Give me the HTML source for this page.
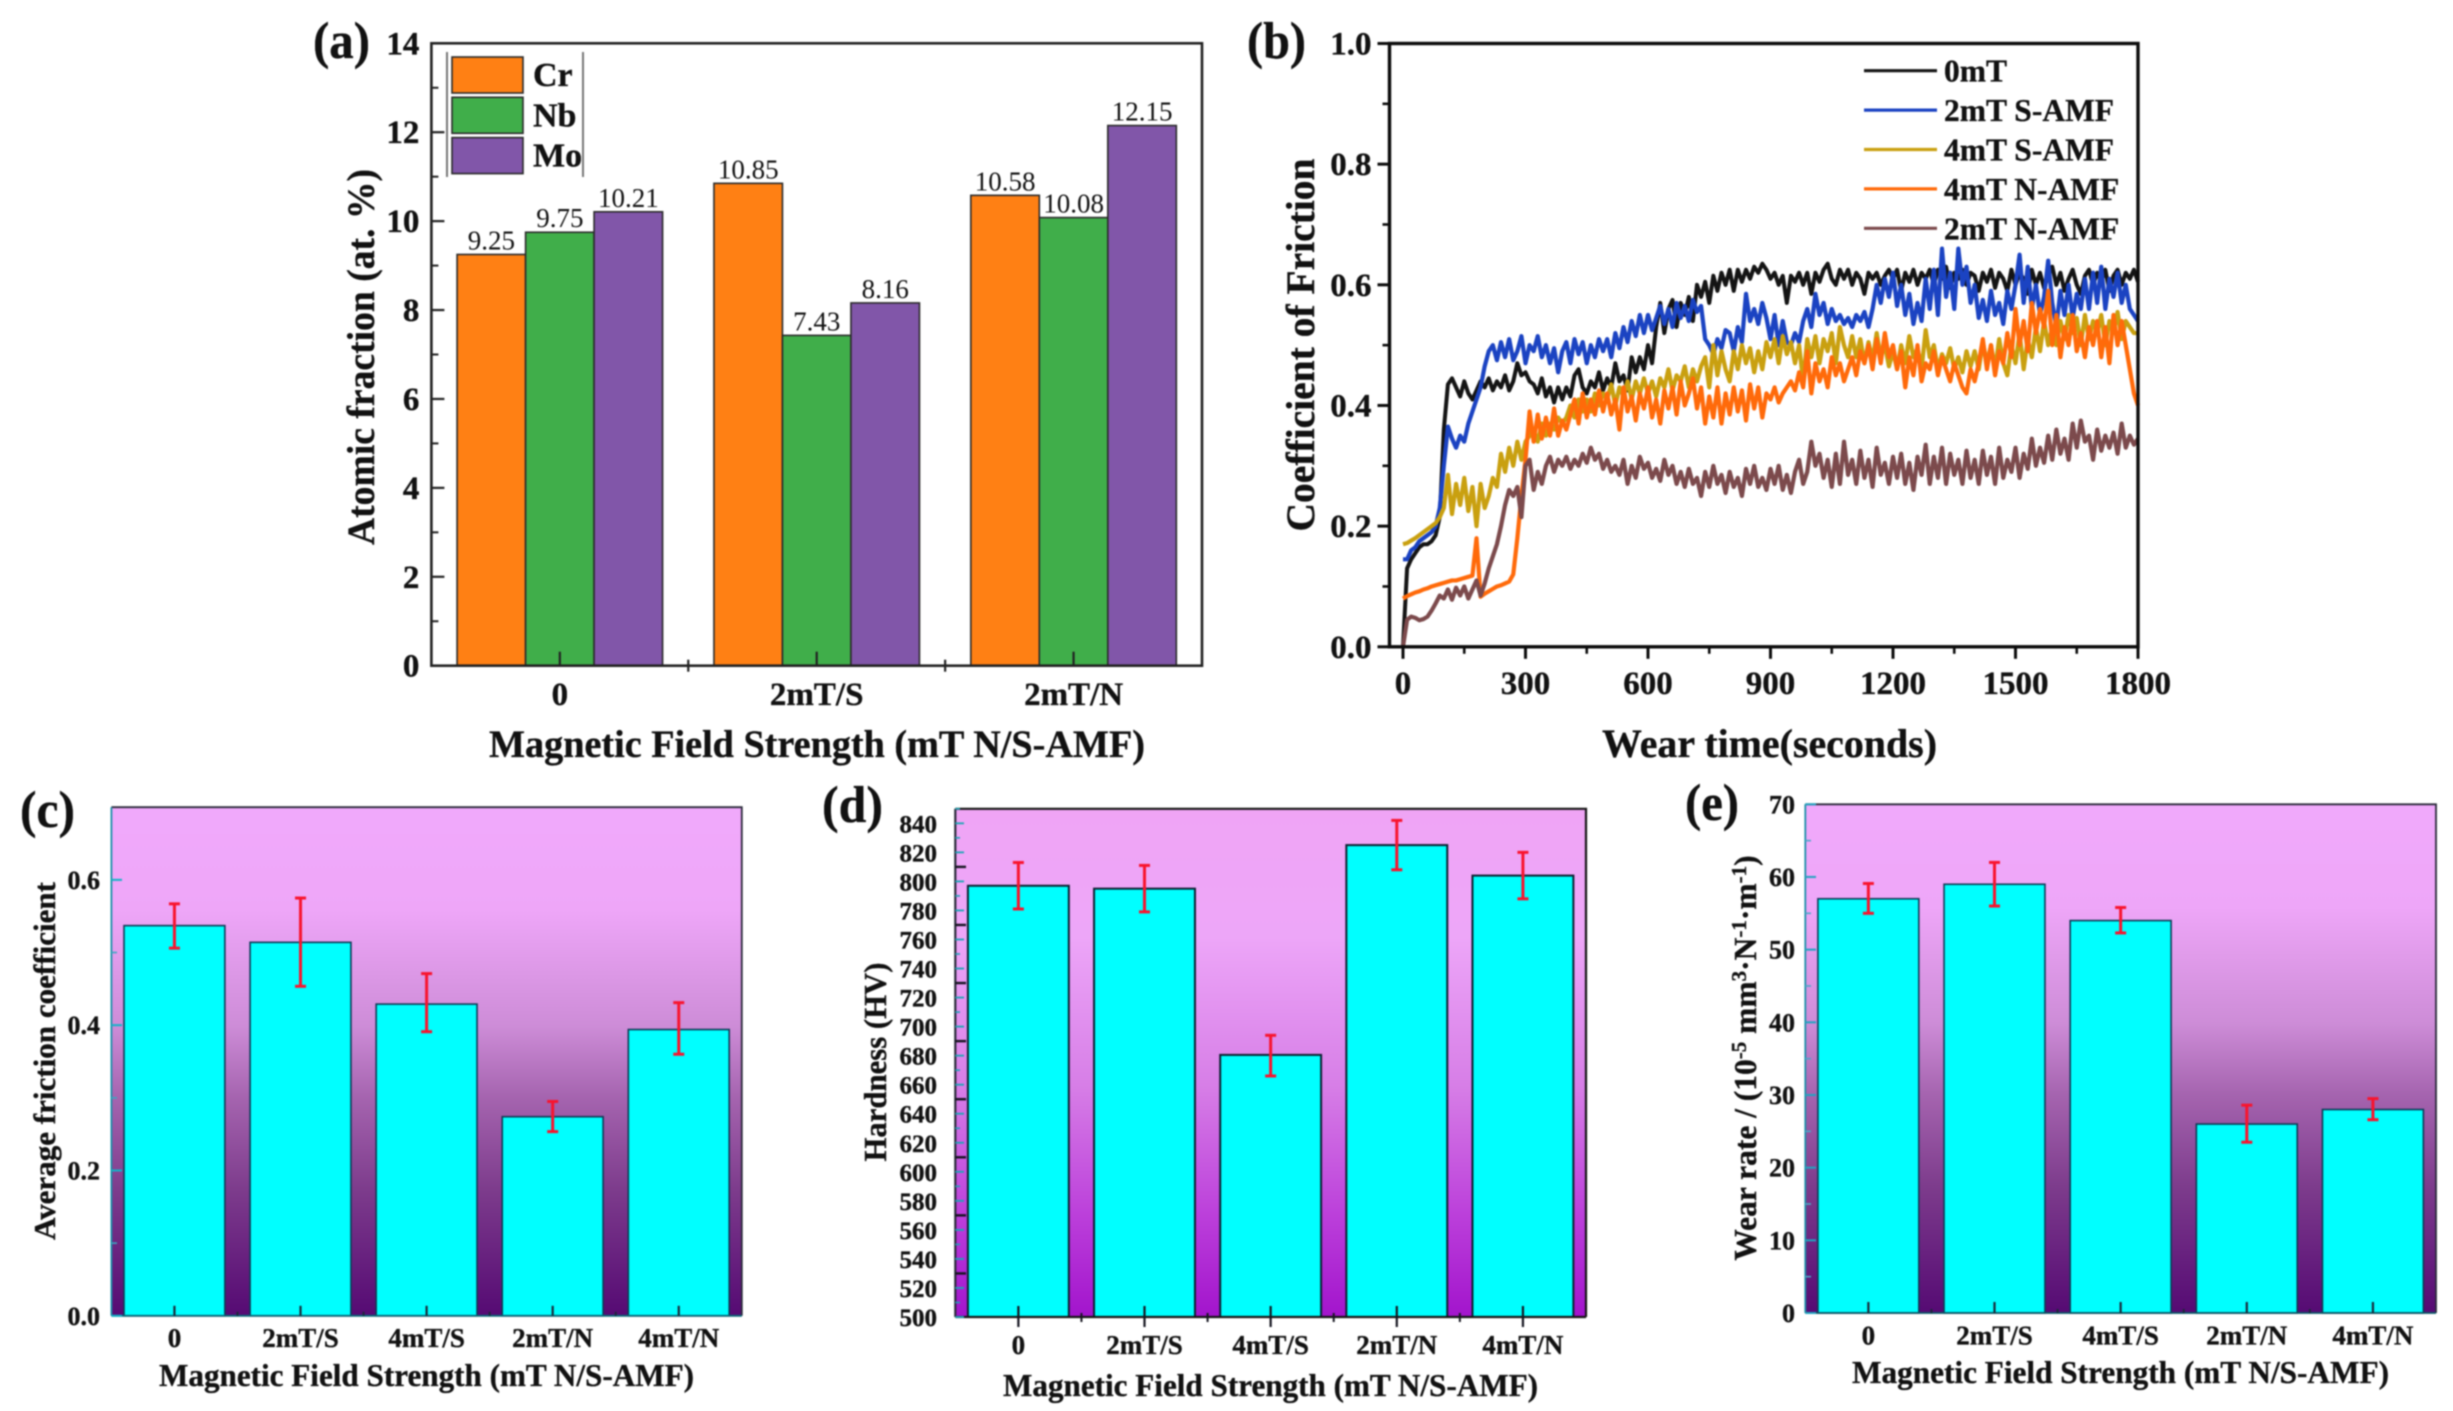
<!DOCTYPE html>
<html lang="en">
<head>
<meta charset="utf-8">
<title>Magnetic field effects on composition, friction, hardness and wear</title>
<style>
html,body{margin:0;padding:0;background:#fff;width:2453px;height:1411px;overflow:hidden}
svg{display:block;filter:blur(0.7px)}
text{font-family:"Liberation Serif","Noto Serif CJK SC",serif;fill:#111}
.b{font-weight:bold;stroke:#111;stroke-width:0.35px}
</style>
</head>
<body>
<svg id="fig" xmlns="http://www.w3.org/2000/svg" width="2453" height="1411" viewBox="0 0 2453 1411">
<defs>
<linearGradient id="gradDark" x1="0" y1="0" x2="0" y2="1">
<stop offset="0" stop-color="#f0a9fb"/><stop offset="0.2" stop-color="#eea6f8"/><stop offset="0.43" stop-color="#cd8cd7"/><stop offset="0.57" stop-color="#a564af"/><stop offset="0.75" stop-color="#7d3c8c"/><stop offset="1" stop-color="#550a73"/>
</linearGradient>
<linearGradient id="gradBright" x1="0" y1="0" x2="0" y2="1">
<stop offset="0" stop-color="#efa4f5"/><stop offset="0.25" stop-color="#eda6f8"/><stop offset="0.55" stop-color="#d67de6"/><stop offset="0.8" stop-color="#bb3fda"/><stop offset="1" stop-color="#a214cc"/>
</linearGradient>
</defs>
<rect x="0" y="0" width="2453" height="1411" fill="#fff"/>

<g id="panelA"></g>
<g id="panelB"></g>
<g id="panelC"></g>
<g id="panelD"></g>
<g id="panelE"></g>

<text class="b" x="313" y="58" font-size="52" textLength="57" lengthAdjust="spacingAndGlyphs">(a)</text>
<text class="b" x="1247" y="58" font-size="52" textLength="59" lengthAdjust="spacingAndGlyphs">(b)</text>
<text class="b" x="20" y="827" font-size="52" textLength="55" lengthAdjust="spacingAndGlyphs">(c)</text>
<text class="b" x="822" y="822" font-size="52" textLength="61" lengthAdjust="spacingAndGlyphs">(d)</text>
<text class="b" x="1685" y="820" font-size="52" textLength="54" lengthAdjust="spacingAndGlyphs">(e)</text>

<text class="b" x="489" y="757" font-size="39" textLength="656" lengthAdjust="spacingAndGlyphs">Magnetic Field Strength (mT N/S-AMF)</text>
<text class="b" transform="translate(374,357) rotate(-90)" text-anchor="middle" font-size="39" textLength="376" lengthAdjust="spacingAndGlyphs">Atomic fraction (at. %)</text>

<text class="b" x="1602" y="757" font-size="40" textLength="335" lengthAdjust="spacingAndGlyphs">Wear time(seconds)</text>
<text class="b" transform="translate(1314,345) rotate(-90)" text-anchor="middle" font-size="40" textLength="373" lengthAdjust="spacingAndGlyphs">Coefficient of Friction</text>

<text class="b" x="159" y="1386" font-size="32" textLength="535" lengthAdjust="spacingAndGlyphs">Magnetic Field Strength (mT N/S-AMF)</text>
<text class="b" transform="translate(55,1061) rotate(-90)" text-anchor="middle" font-size="31" textLength="358" lengthAdjust="spacingAndGlyphs">Average friction coefficient</text>

<text class="b" x="1003" y="1396" font-size="32" textLength="535" lengthAdjust="spacingAndGlyphs">Magnetic Field Strength (mT N/S-AMF)</text>
<text class="b" transform="translate(886,1062) rotate(-90)" text-anchor="middle" font-size="32" textLength="199" lengthAdjust="spacingAndGlyphs">Hardness (HV)</text>

<text class="b" x="1852" y="1383" font-size="32" textLength="537" lengthAdjust="spacingAndGlyphs">Magnetic Field Strength (mT N/S-AMF)</text>
<text class="b" transform="translate(1756,1058) rotate(-90)" text-anchor="middle" font-size="31.5">Wear rate / (10<tspan dy="-10" font-size="21">-5</tspan><tspan dy="10"> mm</tspan><tspan dy="-10" font-size="21">3</tspan><tspan dy="10">·N</tspan><tspan dy="-10" font-size="21">-1</tspan><tspan dy="10">·m</tspan><tspan dy="-10" font-size="21">-1</tspan><tspan dy="10">)</tspan></text>
</svg>

<script>
// ---- Panel (a) data ----
const aCategories = ["0", "2mT/S", "2mT/N"];
const aCr = [9.25, 10.85, 10.58];
const aNb = [9.75, 7.43, 10.08];
const aMo = [10.21, 8.16, 12.15];
const aYTicks = [0, 2, 4, 6, 8, 10, 12, 14];
const aSeriesNames = ["Cr", "Nb", "Mo"];

// ---- Panel (b) data: coefficient of friction sampled every 10 s ----
const bXTicks = [0, 300, 600, 900, 1200, 1500, 1800];
const bYTicks = ["0.0", "0.2", "0.4", "0.6", "0.8", "1.0"];
const bSeriesNames = ["0mT", "2mT S-AMF", "4mT S-AMF", "4mT N-AMF", "2mT N-AMF"];
const bSampleStep = 10;
const b0mT = [
0,.13,.145,.155,.165,.17,.17,.175,.185,.215,
.36,.435,.445,.43,.415,.44,.42,.41,.425,.44,
.43,.445,.425,.44,.43,.45,.425,.44,.47,.45,
.455,.44,.435,.42,.445,.415,.43,.405,.43,.41,
.43,.415,.45,.46,.43,.42,.44,.43,.455,.425,
.445,.43,.47,.44,.45,.425,.48,.455,.48,.46,
.5,.47,.53,.57,.52,.56,.575,.53,.57,.55,
.58,.54,.6,.58,.605,.57,.615,.59,.62,.6,
.625,.59,.625,.605,.625,.61,.63,.62,.635,.625,
.61,.62,.6,.615,.57,.615,.605,.62,.6,.62,
.585,.62,.605,.625,.635,.61,.6,.625,.61,.625,
.6,.62,.61,.585,.62,.61,.62,.6,.615,.625,
.61,.625,.59,.62,.605,.625,.6,.62,.61,.625,
.6,.625,.61,.63,.595,.62,.61,.625,.6,.62,
.615,.59,.62,.605,.625,.595,.62,.61,.59,.625,
.6,.62,.61,.585,.625,.6,.62,.595,.615,.63,
.6,.62,.59,.61,.625,.6,.585,.615,.625,.6,
.62,.605,.625,.59,.615,.625,.6,.62,.61,.625,
.605];
const b2mTS = [
.145,.145,.16,.165,.175,.18,.185,.19,.2,.23,
.3,.365,.345,.33,.35,.34,.37,.39,.41,.43,
.465,.49,.5,.475,.505,.48,.51,.475,.49,.515,
.47,.5,.49,.515,.48,.5,.47,.495,.455,.49,
.505,.47,.51,.485,.505,.47,.5,.48,.51,.49,
.51,.48,.52,.495,.53,.505,.54,.515,.55,.52,
.55,.525,.545,.565,.535,.56,.53,.57,.545,.565,
.54,.575,.555,.565,.51,.5,.485,.51,.495,.525,
.52,.49,.53,.505,.585,.54,.56,.535,.57,.545,
.51,.55,.5,.54,.505,.5,.52,.505,.54,.56,
.53,.585,.55,.57,.535,.56,.54,.55,.535,.545,
.53,.55,.54,.555,.53,.56,.6,.57,.61,.58,
.62,.565,.6,.55,.585,.535,.57,.54,.61,.56,
.625,.55,.66,.58,.62,.56,.66,.6,.63,.57,
.6,.545,.575,.54,.59,.55,.57,.535,.59,.56,
.6,.65,.57,.63,.56,.6,.55,.58,.64,.57,
.53,.59,.55,.6,.545,.585,.56,.61,.56,.62,
.57,.63,.56,.61,.58,.62,.57,.6,.56,.55,
.54];
const b4mTS = [
.17,.172,.176,.18,.185,.19,.195,.2,.205,.215,
.23,.285,.22,.27,.235,.28,.225,.265,.2,.27,
.23,.25,.28,.265,.32,.29,.33,.3,.34,.31,
.34,.35,.36,.34,.37,.35,.37,.36,.38,.37,
.38,.4,.38,.41,.39,.41,.39,.42,.4,.42,
.41,.435,.4,.43,.415,.44,.41,.44,.42,.445,
.42,.44,.415,.445,.43,.46,.425,.45,.44,.465,
.43,.46,.44,.465,.48,.43,.5,.45,.49,.46,
.44,.49,.46,.5,.47,.495,.455,.49,.46,.505,
.48,.51,.47,.515,.485,.505,.47,.5,.44,.51,
.48,.515,.47,.51,.49,.52,.47,.53,.5,.48,
.515,.48,.51,.47,.505,.475,.52,.48,.5,.465,
.49,.46,.5,.47,.515,.48,.495,.46,.525,.48,
.5,.46,.485,.47,.495,.46,.48,.455,.49,.465,
.49,.46,.505,.47,.5,.46,.51,.47,.45,.5,
.47,.52,.46,.51,.48,.53,.49,.54,.5,.53,
.5,.54,.51,.55,.52,.545,.5,.55,.51,.54,
.52,.55,.5,.54,.52,.555,.51,.54,.53,.52,
.52];
const b4mTN = [
.08,.084,.087,.09,.092,.095,.097,.1,.102,.104,
.106,.108,.11,.11,.112,.114,.116,.118,.18,.083,
.088,.092,.096,.1,.102,.105,.108,.12,.18,.25,
.31,.39,.34,.385,.345,.38,.35,.395,.35,.375,
.36,.385,.41,.37,.42,.38,.41,.385,.425,.39,
.42,.385,.41,.36,.43,.39,.415,.375,.42,.395,
.43,.38,.41,.37,.425,.395,.43,.385,.44,.4,
.42,.445,.395,.43,.37,.415,.38,.43,.37,.42,
.385,.43,.39,.425,.375,.435,.395,.43,.38,.42,
.41,.43,.405,.42,.43,.44,.425,.455,.43,.49,
.42,.47,.44,.46,.43,.48,.45,.47,.44,.46,
.48,.45,.49,.47,.5,.46,.51,.47,.52,.48,
.5,.46,.49,.43,.48,.45,.5,.44,.47,.46,
.49,.45,.48,.46,.44,.47,.45,.43,.42,.46,
.44,.47,.51,.46,.5,.45,.49,.47,.52,.48,
.56,.5,.54,.49,.57,.52,.56,.53,.59,.5,
.55,.48,.53,.5,.55,.49,.52,.48,.53,.5,
.54,.48,.53,.47,.55,.5,.54,.5,.46,.42,
.40];
const b2mTN = [
0,.045,.05,.048,.044,.046,.05,.06,.072,.085,
.08,.095,.078,.098,.085,.1,.08,.095,.11,.085,
.105,.13,.15,.17,.2,.235,.26,.25,.265,.215,
.3,.31,.26,.29,.27,.3,.315,.29,.31,.3,
.315,.295,.31,.3,.32,.305,.33,.31,.32,.295,
.31,.29,.3,.285,.31,.27,.3,.28,.315,.295,
.305,.28,.295,.275,.31,.285,.3,.27,.29,.265,
.295,.27,.28,.25,.29,.265,.3,.27,.285,.255,
.29,.265,.28,.25,.295,.27,.3,.265,.28,.26,
.295,.27,.3,.26,.285,.255,.29,.31,.27,.29,
.34,.3,.32,.28,.31,.265,.32,.27,.34,.285,
.31,.27,.325,.28,.31,.265,.33,.285,.305,.27,
.315,.28,.32,.27,.305,.26,.315,.285,.335,.27,
.315,.28,.33,.27,.32,.285,.31,.27,.325,.28,
.31,.27,.325,.285,.315,.27,.33,.28,.31,.29,
.33,.28,.32,.295,.345,.3,.33,.305,.35,.31,
.36,.32,.345,.31,.37,.33,.375,.34,.35,.31,
.36,.325,.35,.33,.355,.32,.37,.33,.35,.335,
.345];

// ---- Panels (c), (d), (e) data ----
const fieldCategories = ["0", "2mT/S", "4mT/S", "2mT/N", "4mT/N"];
const cValues = [0.537, 0.514, 0.429, 0.274, 0.394];
const cErrHigh = [0.567, 0.575, 0.471, 0.295, 0.431];
const cErrLow = [0.506, 0.4535, 0.391, 0.2535, 0.36];
const cYTicks = ["0.0", "0.2", "0.4", "0.6"];

const dValues = [797, 795, 680.5, 825, 804];
const dErrHigh = [813, 811, 694, 842, 820];
const dErrLow = [781, 779, 666, 808, 788];
const dYTicks = [500, 520, 540, 560, 580, 600, 620, 640, 660, 680, 700, 720, 740, 760, 780, 800, 820, 840];

const eValues = [57, 59, 54, 26, 28];
const eErrHigh = [59.1, 62, 55.8, 28.6, 29.5];
const eErrLow = [55, 56, 52.3, 23.5, 26.6];
const eYTicks = [0, 10, 20, 30, 40, 50, 60, 70];

const NS = "http://www.w3.org/2000/svg";
function mk(tag, parent, props) {
  const el = document.createElementNS(NS, tag);
  for (const k in props) el.setAttribute(k, props[k]);
  parent.appendChild(el);
  return el;
}
function linearScale(d0, d1, r0, r1) {
  return function (v) { return r0 + (v - d0) / (d1 - d0) * (r1 - r0); };
}
function bandCenter(left, right, n) {
  return function (i) { return left + (i + 0.5) * (right - left) / n; };
}
function tickLine(parent, x1, y1, x2, y2, color, w) {
  const el = mk("line", parent, { x1: x1, y1: y1, x2: x2, y2: y2, stroke: color, "stroke-width": w });
  
  
  return el;
}
function tickText(parent, x, y, str, size, anchor) {
  const el = mk("text", parent, { x: x, y: y, "font-size": size, "text-anchor": anchor, class: "b" });
  el.textContent = str;
  
  
  return el;
}

/* ========= Panel A: grouped bars ========= */
(function () {
  const g = document.getElementById("panelA");
  const L = 431.4, R = 1202, T = 43.3, B = 665.7;
  const y = linearScale(0, 14, B, T);
  const cx = bandCenter(L, R, aCategories.length);
  const band = (R - L) / aCategories.length;
  const bw = band * 0.8 / 3;
  const groups = [aCr, aNb, aMo];
  const fills = ["#ff8014", "#40ae4a", "#8156a9"];
  groups.forEach(function (vals, s) {
    vals.forEach(function (v, i) {
      const x0 = cx(i) + (s - 1.5) * bw;
      const r = mk("rect", g, { x: x0, y: y(v), width: bw, height: B - y(v), fill: fills[s], stroke: "#2a2a2a", "stroke-width": 1.6 });
      
      
      const t = mk("text", g, { x: x0 + bw / 2, y: y(v) - 5, "font-size": 27, "text-anchor": "middle" });
      t.textContent = v.toFixed(2);
      
      
    });
  });
  const frame = mk("rect", g, { x: L, y: T, width: R - L, height: B - T, fill: "none", stroke: "#222", "stroke-width": 2.6 });
  
  
  aYTicks.forEach(function (v, i) {
    tickLine(g, L, y(v), L + 13, y(v), "#222", 2.2);
    tickText(g, L - 12, y(v) + 11, String(v), 33, "end");
    if (i < aYTicks.length - 1) tickLine(g, L, y(v + 1), L + 7, y(v + 1), "#222", 2);
  });
  aCategories.forEach(function (c, i) {
    tickLine(g, cx(i), B, cx(i), B - 14, "#222", 2.2);
    tickText(g, cx(i), 705, c, 33, "middle");
    if (i > 0) tickLine(g, cx(i) - band / 2, B - 6, cx(i) - band / 2, B + 6, "#222", 2.2);
  });
  const lg = mk("g", g, {});
  
  
  mk("line", lg, { x1: 447, y1: 52, x2: 447, y2: 177, stroke: "#777", "stroke-width": 2 });
  mk("line", lg, { x1: 583, y1: 52, x2: 583, y2: 177, stroke: "#777", "stroke-width": 2 });
  aSeriesNames.forEach(function (n, s) {
    const e = mk("g", lg, {});
    
    
    const top = 57 + s * 40.3;
    mk("rect", e, { x: 452, y: top, width: 71, height: 36, fill: fills[s], stroke: "#2a2a2a", "stroke-width": 1.6 });
    const t = mk("text", e, { x: 533, y: top + 29, "font-size": 34, class: "b" });
    t.textContent = n;
  });
})();

/* ========= Panel B: friction curves ========= */
(function () {
  const g = document.getElementById("panelB");
  const L = 1389.5, R = 2138, T = 43.5, B = 646.8;
  const x = linearScale(0, 1800, 1403, 2138);
  const y = linearScale(0, 1, B, T);
  const series = [b0mT, b2mTS, b4mTS, b4mTN, b2mTN];
  const colors = ["#141414", "#1b43c2", "#c9a010", "#ff6a0a", "#7c4a4c"];
  const widths = [4, 4.2, 4.2, 4.2, 4.2];
  series.forEach(function (vals, s) {
    let d = "";
    vals.forEach(function (v, i) {
      d += (i ? "L" : "M") + x(i * bSampleStep).toFixed(2) + " " + y(v).toFixed(2);
    });
    const p = mk("path", g, { d: d, fill: "none", stroke: colors[s], "stroke-width": widths[s], "stroke-linejoin": "round" });
    
    
  });
  const frame = mk("rect", g, { x: L, y: T, width: R - L, height: B - T, fill: "none", stroke: "#0c0c0c", "stroke-width": 3.4 });
  
  
  bYTicks.forEach(function (lab) {
    const v = parseFloat(lab);
    tickLine(g, L - 12, y(v), L, y(v), "#0c0c0c", 3);
    tickText(g, L - 18, y(v) + 11, lab, 33, "end");
    if (v < 1) tickLine(g, L - 7, y(v + 0.1), L, y(v + 0.1), "#0c0c0c", 2.6);
  });
  bXTicks.forEach(function (v, i) {
    tickLine(g, x(v), B, x(v), B + 12, "#0c0c0c", 3);
    tickText(g, x(v), 694, String(v), 33, "middle");
    if (i < bXTicks.length - 1) tickLine(g, x(v + 150), B, x(v + 150), B + 7, "#0c0c0c", 2.6);
  });
  const lg = mk("g", g, {});
  
  
  bSeriesNames.forEach(function (n, s) {
    const e = mk("g", lg, {});
    
    
    const ly = 70.7 + s * 39.4;
    mk("line", e, { x1: 1864, y1: ly, x2: 1937, y2: ly, stroke: colors[s], "stroke-width": 3.2 });
    const t = mk("text", e, { x: 1944, y: ly + 11, "font-size": 31.5, class: "b" });
    t.textContent = n;
  });
})();

/* ========= Panels C, D, E: gradient bars with error bars ========= */
function gradientBars(id, cfg) {
  const g = document.getElementById(id);
  const y = linearScale(cfg.min, cfg.max, cfg.B, cfg.T);
  const cx = bandCenter(cfg.L, cfg.R, fieldCategories.length);
  const band = (cfg.R - cfg.L) / fieldCategories.length;
  const bw = band * 0.8;
  const bg = mk("rect", g, { x: cfg.L, y: cfg.T, width: cfg.R - cfg.L, height: cfg.B - cfg.T, fill: "url(#" + cfg.grad + ")" });
  
  
  cfg.values.forEach(function (v, i) {
    const r = mk("rect", g, { x: cx(i) - bw / 2, y: y(v), width: bw, height: cfg.B - y(v), fill: "#00ffff", stroke: cfg.barStroke, "stroke-width": cfg.barW });
    
    
  });
  cfg.values.forEach(function (v, i) {
    const e = mk("g", g, { stroke: "#f8142e", "stroke-width": 3 });
    
    
    const hi = y(cfg.high[i]), lo = y(cfg.low[i]);
    mk("line", e, { x1: cx(i), y1: hi, x2: cx(i), y2: lo });
    mk("line", e, { x1: cx(i) - 5.5, y1: hi, x2: cx(i) + 5.5, y2: hi });
    mk("line", e, { x1: cx(i) - 5.5, y1: lo, x2: cx(i) + 5.5, y2: lo });
  });
  const top = mk("path", g, { d: "M" + cfg.L + " " + cfg.T + "H" + cfg.R + "V" + cfg.B, fill: "none", stroke: cfg.frame, "stroke-width": cfg.frameW });
  
  
  const la = mk("line", g, { x1: cfg.L, y1: cfg.T, x2: cfg.L, y2: cfg.B, stroke: cfg.leftAxis, "stroke-width": cfg.frameW });
  
  
  const ba = mk("line", g, { x1: cfg.L, y1: cfg.B, x2: cfg.R, y2: cfg.B, stroke: cfg.bottomAxis, "stroke-width": cfg.frameW });
  
  
  fieldCategories.forEach(function (c, i) {
    tickLine(g, cx(i), cfg.B - cfg.tickUp, cx(i), cfg.B + cfg.tickDown, cfg.tickColor, 2.2);
    tickText(g, cx(i), cfg.labelY, c, 27, "middle");
    if (i > 0) tickLine(g, cx(i) - band / 2, cfg.B - 4, cx(i) - band / 2, cfg.B + cfg.tickDown / 2, cfg.tickColor, 2);
  });
  return y;
}

(function () {
  const y = gradientBars("panelC", { L: 111.4, R: 741.8, T: 807.2, B: 1315.8, min: 0, max: 0.7, values: cValues, high: cErrHigh, low: cErrLow, grad: "gradDark", barStroke: "#0d3a55", barW: 1.6, frame: "#2a2a3a", frameW: 1.8, leftAxis: "#1c8fa8", bottomAxis: "#0a6878", tickUp: 10, tickDown: 0, tickColor: "#1a2a3a", labelY: 1347 });
  const g = document.getElementById("panelC");
  cYTicks.forEach(function (lab) {
    const v = parseFloat(lab);
    tickLine(g, 111.4, y(v), 122, y(v), "#12b4c8", 2);
    tickText(g, 100, y(v) + 9, lab, 26, "end");
    if (v < 0.6) tickLine(g, 111.4, y(v + 0.1), 117, y(v + 0.1), "#3aa8c0", 1.6);
  });
})();

(function () {
  const y = gradientBars("panelD", { L: 955.3, R: 1586, T: 808.8, B: 1317, min: 500, max: 850, values: dValues, high: dErrHigh, low: dErrLow, grad: "gradBright", barStroke: "#0a2030", barW: 2, frame: "#151515", frameW: 2.2, leftAxis: "#2a2a3a", bottomAxis: "#151515", tickUp: 11, tickDown: 10, tickColor: "#151520", labelY: 1354 });
  const g = document.getElementById("panelD");
  dYTicks.forEach(function (v) {
    tickLine(g, 955.3, y(v), 964, y(v), "#1ba6b4", 1.8);
    tickText(g, 937, y(v) + 9, String(v), 25, "end");
    if (v < 840) {
      const isDark = (v + 10 - 490) % 40 === 0;
      tickLine(g, 955.3, y(v + 10), isDark ? 966 : 960, y(v + 10), isDark ? "#151520" : "#1ba6b4", isDark ? 2.4 : 1.6);
    }
  });
  tickLine(g, 955.3, y(850), 960, y(850), "#1ba6b4", 1.6);
})();

(function () {
  const y = gradientBars("panelE", { L: 1805.3, R: 2436, T: 804.3, B: 1313, min: 0, max: 70, values: eValues, high: eErrHigh, low: eErrLow, grad: "gradDark", barStroke: "#0d3a55", barW: 1.6, frame: "#2a2a3a", frameW: 1.8, leftAxis: "#1c8fa8", bottomAxis: "#0a5a68", tickUp: 11, tickDown: 0, tickColor: "#1a2a3a", labelY: 1344.5 });
  const g = document.getElementById("panelE");
  eYTicks.forEach(function (v) {
    tickLine(g, 1805.3, y(v), 1816, y(v), "#22a4c0", 2);
    tickText(g, 1795, y(v) + 9, String(v), 26, "end");
    if (v < 70) tickLine(g, 1805.3, y(v + 5), 1811, y(v + 5), "#4aa8c8", 1.6);
  });
})();
</script>
</body>
</html>
